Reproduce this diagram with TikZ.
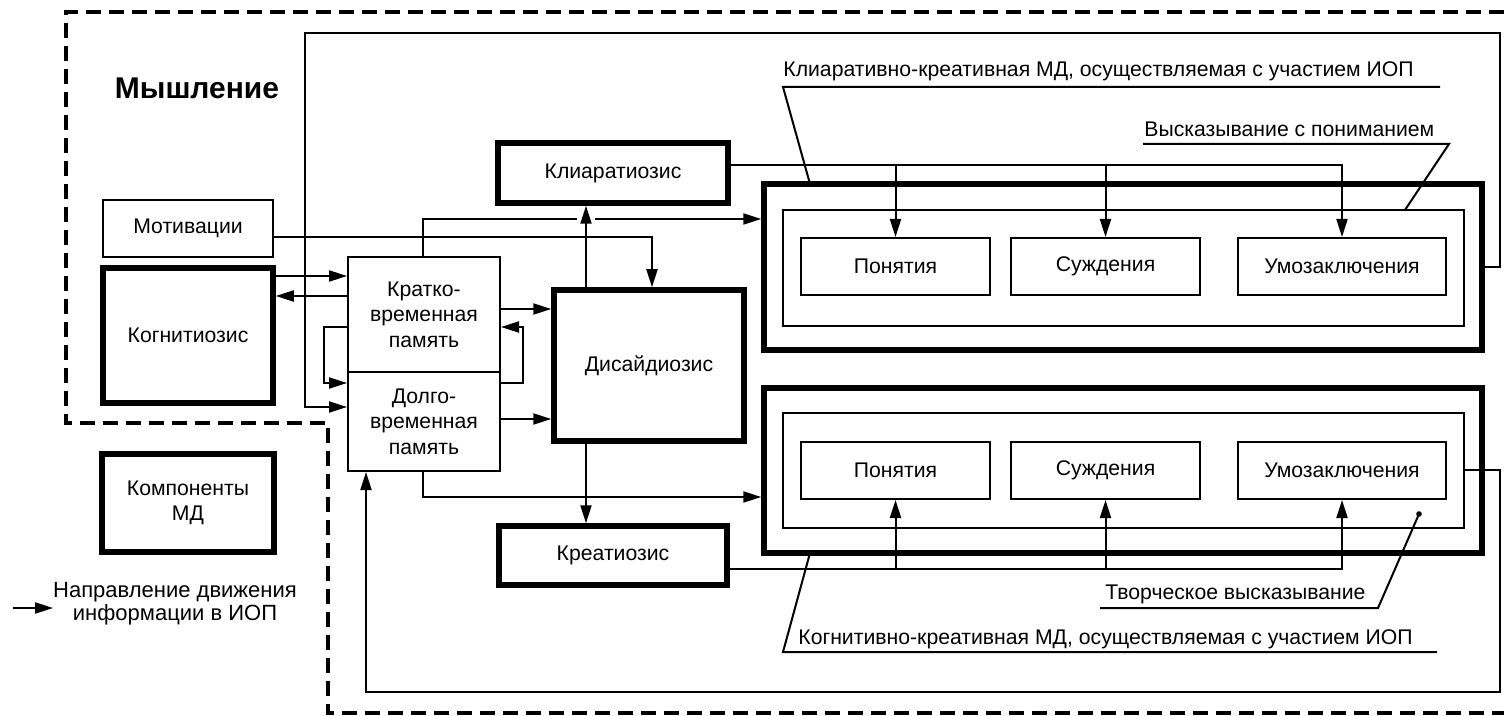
\documentclass[tikz,border=0pt]{standalone}
\usepackage{fontspec}
\setmainfont{Liberation Sans}
\usetikzlibrary{arrows.meta}
\tikzset{
  bx/.style={draw, line width=1pt, inner sep=0pt, align=center},
  thk/.style={bx, line width=2.75pt},
  sz/.style 2 args={minimum width=#1*0.5pt, minimum height=#2*0.5pt},
  ln/.style={line width=1pt},
  arr/.style={ln, -{Triangle[length=9pt,width=5.5pt]}},
  lbl/.style={inner sep=0pt, anchor=base west},
  bnd/.style={line width=2.25pt, dash pattern=on 7.5pt off 4pt, line join=miter}
}
\begin{document}
\begin{tikzpicture}[x=0.5pt, y=-0.5pt,
  every node/.style={font=\fontsize{10.6}{12.75}\selectfont}]
\useasboundingbox (0,0) rectangle (1504,716);

% dashed boundary of "thinking"
\draw[bnd] (1504,12) -- (66,12) -- (66,423) -- (328,423) -- (328,713) -- (1504,713);

% title
\node[inner sep=0pt, font=\bfseries\fontsize{15}{18}\selectfont] (title) at (197,88) {Мышление};

% boxes
\node[bx, sz={170}{57}] (motiv) at (188,228.5) {Мотивации};
\node[thk, sz={170}{135}] (kogn) at (188,335.5) {Когнитиозис};
\node[thk, sz={172}{98}] (komp) at (188,503) {Компоненты\\МД};
\node[bx, sz={152}{115}] (kr) at (424,314.5) {Кратко-\\временная\\память};
\node[bx, sz={152}{99}] (dl) at (424,421.5) {Долго-\\временная\\память};
\node[thk, sz={230}{60}] (klr) at (613,173) {Клиаратиозис};
\node[thk, sz={190}{151}] (dis) at (649,365.5) {Дисайдиозис};
\node[thk, sz={228}{59}] (kre) at (613,555.5) {Креатиозис};

\node[thk, sz={718}{166}] (topo) at (1123,267) {};
\node[bx, sz={681}{116}] (topi) at (1123.5,268) {};
\node[bx, sz={189}{57}] (p1) at (895.5,266.5) {Понятия};
\node[bx, sz={189}{57}] (s1) at (1105.5,266.5) {Суждения};
\node[bx, sz={208}{57}] (u1) at (1342,266.5) {Умозаключения};

\node[thk, sz={718}{165}] (boto) at (1123,470.5) {};
\node[bx, sz={681}{115}] (boti) at (1123.5,470.5) {};
\node[bx, sz={189}{57}] (p2) at (895.5,470.5) {Понятия};
\node[bx, sz={189}{57}] (s2) at (1105.5,470.5) {Суждения};
\node[bx, sz={208}{57}] (u2) at (1342,470.5) {Умозаключения};

% routing coordinates
\coordinate (r1) at (423,219);
\coordinate (g1) at (577,219);
\coordinate (g2) at (595,219);
\coordinate (m1) at (652,237);
\coordinate (k1) at (0,276);
\coordinate (k2) at (0,296);
\coordinate (l1) at (324,327);
\coordinate (l2) at (324,383);
\coordinate (q1) at (523,383);
\coordinate (q2) at (523,327);
\coordinate (d1) at (0,309);
\coordinate (d2) at (0,419);
\coordinate (v1) at (586,0);
\coordinate (b1) at (423,497);
\coordinate (t1) at (1342,165);
\coordinate (t2) at (1342,569);
\coordinate (f1) at (1500,267);
\coordinate (f2) at (1500,33);
\coordinate (f3) at (305,33);
\coordinate (f4) at (305,407);
\coordinate (h1) at (1500,470);
\coordinate (h2) at (1500,692);
\coordinate (h3) at (366,692);

% connectors
\draw[ln] (kr.north -| r1) -- (r1) -- (g1);
\draw[arr] (g2) -- (topo.west |- g2);
\draw[arr] (motiv.east |- m1) -- (m1) -- (dis.north -| m1);
\draw[arr] (kogn.east |- k1) -- (kr.west |- k1);
\draw[arr] (kr.west |- k2) -- (kogn.east |- k2);
\draw[arr] (kr.west |- l1) -- (l1) -- (l2) -- (dl.west |- l2);
\draw[arr] (dl.east |- q1) -- (q1) -- (q2) -- (kr.east |- q2);
\draw[arr] (kr.east |- d1) -- (dis.west |- d1);
\draw[arr] (dl.east |- d2) -- (dis.west |- d2);
\draw[arr] (dis.north -| v1) -- (klr.south -| v1);
\draw[arr] (dis.south -| v1) -- (kre.north -| v1);
\draw[arr] (dl.south -| b1) -- (b1) -- (boto.west |- b1);

\draw[arr] (klr.east |- t1) -- (t1) -- (u1.north);
\draw[arr] (p1.north |- t1) -- (p1.north);
\draw[arr] (s1.north |- t1) -- (s1.north);
\draw[arr] (kre.east |- t2) -- (t2) -- (u2.south);
\draw[arr] (p2.south |- t2) -- (p2.south);
\draw[arr] (s2.south |- t2) -- (s2.south);

\draw[arr] (topo.east |- f1) -- (f1) -- (f2) -- (f3) -- (f4) -- (dl.west |- f4);
\draw[arr] (boti.east |- h1) -- (h1) -- (h2) -- (h3) -- (dl.south -| h3);

% callout labels
\node[lbl] (lk) at (783,77) {Клиаративно-креативная МД, осуществляемая с участием ИОП};
\coordinate (lk0) at (783,87);
\coordinate (lk1) at (1440,87);
\coordinate (lk2) at (810,184);
\draw[ln] (lk1) -- (lk0) -- (lk2);

\node[lbl] (lv) at (1144,137) {Высказывание с пониманием};
\coordinate (lv0) at (1143,144);
\coordinate (lv1) at (1449,144);
\coordinate (lv2) at (1405,210);
\draw[ln] (lv0) -- (lv1) -- (lv2);

\node[lbl] (lt) at (1105,599) {Творческое высказывание};
\coordinate (lt0) at (1100,608);
\coordinate (lt1) at (1378,608);
\coordinate (lt2) at (1419,514);
\draw[ln] (lt0) -- (lt1) -- (lt2);
\fill (lt2) circle (1.4pt);

\node[lbl] (lg) at (798,644) {Когнитивно-креативная МД, осуществляемая с участием ИОП};
\coordinate (lg0) at (783,652);
\coordinate (lg1) at (1437,652);
\coordinate (lg2) at (810,553);
\draw[ln] (lg1) -- (lg0) -- (lg2);

% legend
\coordinate (a0) at (13,608);
\coordinate (a1) at (53,608);
\draw[arr] (a0) -- (a1);
\node[align=center, inner sep=0pt, font=\fontsize{11}{11.6}\selectfont] (leg) at (175,604) {Направление движения\\информации в ИОП};
\end{tikzpicture}
\end{document}
